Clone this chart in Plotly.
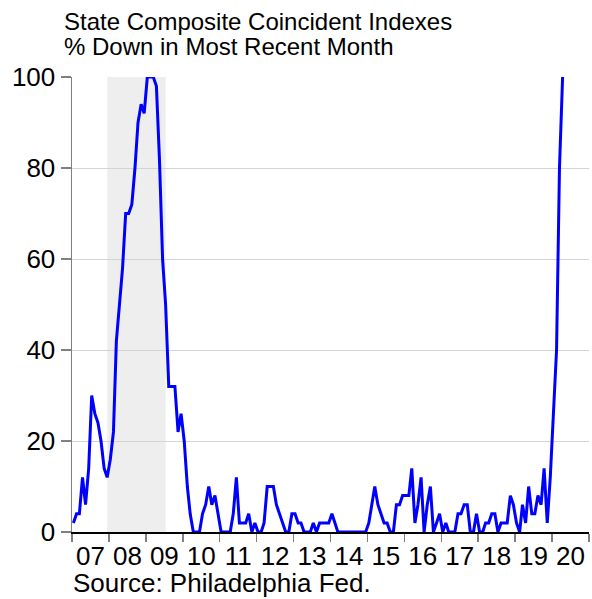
import pandas as pd
import plotly.graph_objects as go

# Monthly data, Jan 2007 - Apr 2020: % of states with coincident index down
start_month = "2007-01-01"
pct_down = [
    # 2007
    2, 4, 4, 12, 6, 14, 30, 26, 24, 20, 14, 12,
    # 2008
    16, 22, 42, 50, 58, 70, 70, 72, 80, 90, 94, 92,
    # 2009
    100, 100, 100, 98, 82, 60, 50, 32, 32, 32, 22, 26,
    # 2010
    20, 10, 4, 0, 0, 0, 4, 6, 10, 6, 8, 4,
    # 2011
    0, 0, 0, 0, 4, 12, 2, 2, 2, 4, 0, 2,
    # 2012
    0, 0, 2, 10, 10, 10, 6, 4, 2, 0, 0, 4,
    # 2013
    4, 2, 2, 0, 0, 0, 2, 0, 2, 2, 2, 2,
    # 2014
    4, 2, 0, 0, 0, 0, 0, 0, 0, 0, 0, 0,
    # 2015
    2, 6, 10, 6, 4, 2, 2, 0, 0, 6, 6, 8,
    # 2016
    8, 8, 14, 2, 6, 12, 0, 6, 10, 0, 2, 4,
    # 2017
    0, 2, 0, 0, 0, 4, 4, 6, 6, 0, 0, 4,
    # 2018
    0, 0, 2, 2, 4, 4, 0, 2, 2, 2, 8, 6,
    # 2019
    2, 0, 6, 2, 10, 4, 4, 8, 6, 14, 2, 12,
    # 2020
    26, 40, 80, 100,
]
recession = ["2007-12-16", "2009-07-16"]
y_ticks = [0, 20, 40, 60, 80, 100]
title_lines = ["State Composite Coincident Indexes", "% Down in Most Recent Month"]
source_text = "Source: Philadelphia Fed."

dates = pd.date_range(start_month, periods=len(pct_down), freq="MS") + pd.Timedelta(days=14)

FONT = "Liberation Sans, Arial, sans-serif"

fig = go.Figure()
fig.add_trace(go.Scatter(
    x=dates, y=pct_down, mode="lines",
    line=dict(color="#0000ff", width=3),
    hoverinfo="skip", showlegend=False,
))

fig.add_shape(type="rect", xref="x", yref="paper",
              x0=recession[0], x1=recession[1], y0=0, y1=1,
              fillcolor="#eeeeee", line=dict(width=0), layer="below")

W, H = 592, 599
L, R, T, B = 72, 3, 77, 67
plot_h = H - T - B
plot_w = W - L - R

def py(pix):
    return (H - B - pix) / plot_h

def px(pix):
    return (pix - L) / plot_w

fig.add_annotation(text=title_lines[0], xref="paper", yref="paper",
                   x=px(62), y=py(22), xanchor="left", yanchor="middle",
                   showarrow=False, font=dict(family=FONT, size=24, color="black"))
fig.add_annotation(text=title_lines[1], xref="paper", yref="paper",
                   x=px(62), y=py(46.5), xanchor="left", yanchor="middle",
                   showarrow=False, font=dict(family=FONT, size=24, color="black"))
fig.add_annotation(text=source_text, xref="paper", yref="paper",
                   x=px(70.5), y=py(583), xanchor="left", yanchor="middle",
                   showarrow=False, font=dict(family=FONT, size=26, color="black"))

fig.update_layout(
    width=W, height=H,
    margin=dict(l=L, r=R, t=T, b=B, pad=0, autoexpand=False),
    paper_bgcolor="white", plot_bgcolor="white",
    font=dict(family=FONT, size=26, color="black"),
    showlegend=False,
)
fig.update_xaxes(
    type="date", range=["2007-01-01", "2021-01-01"], automargin=False,
    tick0="2007-01-01", dtick="M12", tickformat="%y", ticklabelmode="period",
    ticks="outside", ticklen=8, tickwidth=1.5, tickcolor="#808080",
    ticklabelstandoff=-8,
    showline=True, linecolor="black", linewidth=1.5,
    showgrid=False, zeroline=False,
    tickfont=dict(family=FONT, size=26, color="black"),
)
fig.update_yaxes(
    range=[0, 100], tickvals=y_ticks, automargin=False,
    ticks="outside", ticklen=10, tickwidth=1.5, tickcolor="#808080",
    showline=True, linecolor="#808080", linewidth=1.5,
    showgrid=True, gridcolor="#d4d4d4", gridwidth=1, zeroline=False,
    tickfont=dict(family=FONT, size=26, color="black"),
)

fig.write_html(
    "out.html",
    config={"displayModeBar": False, "staticPlot": True},
    post_script="document.body.style.margin='0';document.body.style.overflow='hidden';",
)
